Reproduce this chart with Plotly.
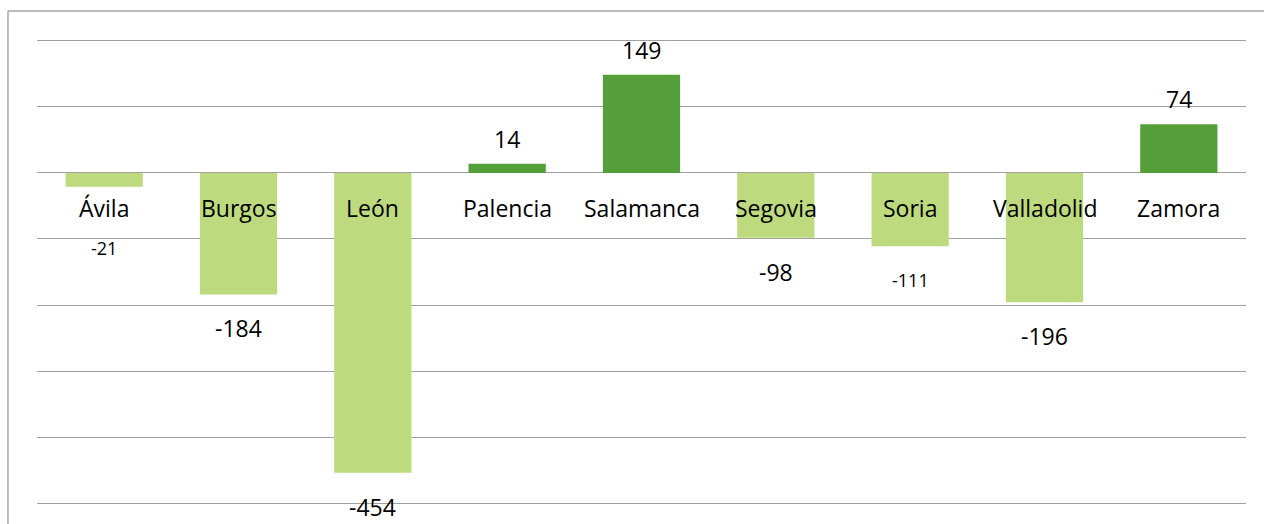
import plotly.graph_objects as go

provincias = ["Ávila", "Burgos", "León", "Palencia", "Salamanca",
              "Segovia", "Soria", "Valladolid", "Zamora"]
saldo = [-21, -184, -454, 14, 149, -98, -111, -196, 74]
# these two value labels are printed smaller in the original
etiqueta_pequena = ["Ávila", "Soria"]

DARK = "#559F3A"
LIGHT = "#BDDB7E"
FONT = "Open Sans"

colors = [DARK if v > 0 else LIGHT for v in saldo]

fig = go.Figure(go.Bar(
    x=provincias, y=saldo,
    marker=dict(color=colors, line=dict(width=0)),
    width=0.575,
    hoverinfo="x+y",
    showlegend=False,
))

annotations = []
for p, v in zip(provincias, saldo):
    # category name just below the zero line
    annotations.append(dict(
        x=p, y=0, xref="x", yref="y", text=p, showarrow=False,
        yshift=-35, font=dict(family=FONT, size=23, color="#000"),
    ))
    small = p in etiqueta_pequena
    if v > 0:
        shift = 25
    elif p == "Ávila":
        shift = -61
    else:
        shift = -34
    annotations.append(dict(
        x=p, y=v, xref="x", yref="y", text=str(v), showarrow=False,
        yshift=shift,
        font=dict(family=FONT, size=18 if small else 23, color="#000"),
    ))

# chart frame: only the top and left edges are visible in the crop
frame = dict(color="#A6A6A6", width=1.5)
shapes = [
    dict(type="line", xref="paper", yref="paper",
         x0=-0.024, x1=1.2, y0=1.0577, y1=1.0577, line=frame, layer="below"),
    dict(type="line", xref="paper", yref="paper",
         x0=-0.024, x1=-0.024, y0=-0.1, y1=1.0577, line=frame, layer="below"),
]

fig.update_layout(
    width=1264, height=524,
    margin=dict(l=37, r=18, t=39, b=0),
    plot_bgcolor="white", paper_bgcolor="white",
    xaxis=dict(showticklabels=False, showgrid=False, zeroline=False,
               showline=False, ticks=""),
    yaxis=dict(range=[-531.8, 203], dtick=100, tick0=0,
               showgrid=True, gridcolor="#A0A0A0", gridwidth=1,
               zeroline=False, showticklabels=False, ticks=""),
    annotations=annotations,
    shapes=shapes,
)

# drop the default 8px body margin so the figure fills the window
fig.write_html(
    "out.html",
    config={"displayModeBar": False},
    post_script="document.body.style.margin='0';"
                "document.body.style.overflow='hidden';",
)
